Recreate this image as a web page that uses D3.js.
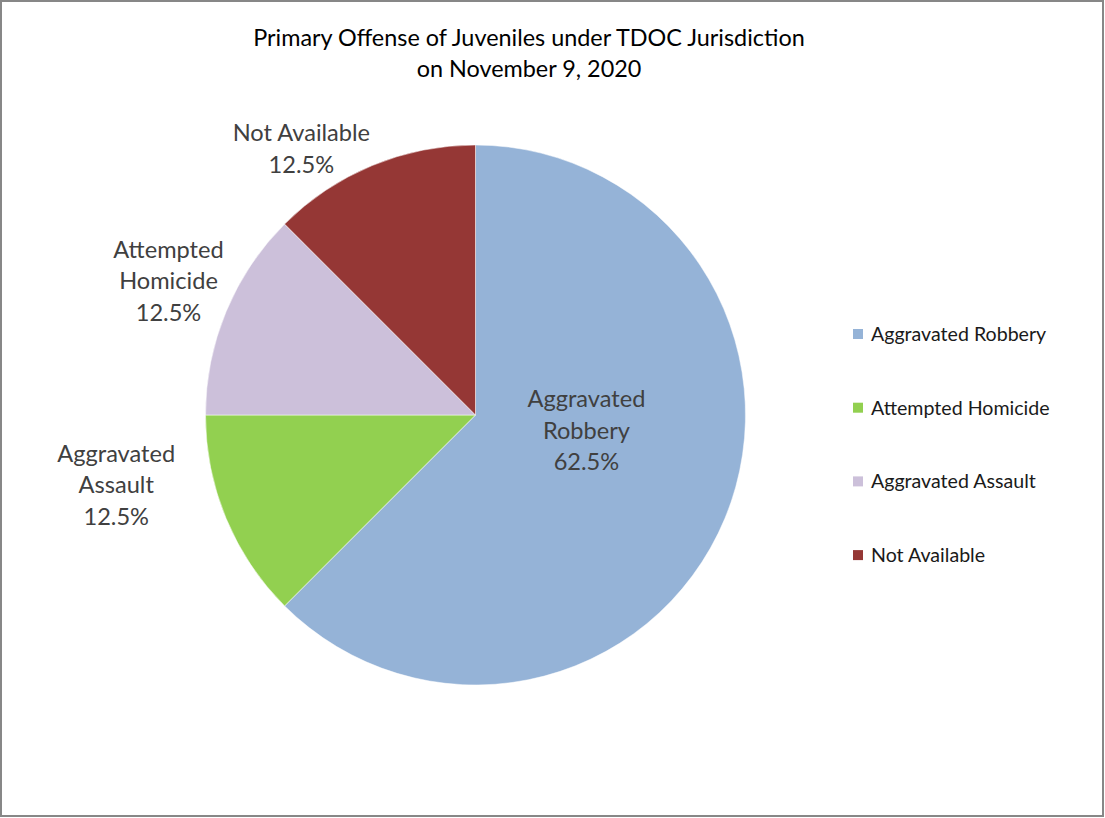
<!DOCTYPE html>
<html>
<head>
<meta charset="utf-8">
<script src="https://cdn.jsdelivr.net/npm/d3@7"></script>
<style>
  html, body { margin: 0; padding: 0; background: #fff; }
  svg { display: block; }
  text { font-family: Lato, "Open Sans", sans-serif; }
</style>
</head>
<body>
<svg id="chart" width="1105" height="818"></svg>
<script>
// ---- data ----
const titleLines = ["Primary Offense of Juveniles under TDOC Jurisdiction", "on November 9, 2020"];
const categories = ["Aggravated Robbery", "Attempted Homicide", "Aggravated Assault", "Not Available"];
const values = [62.5, 12.5, 12.5, 12.5];
const colors = ["#95B3D7", "#92D050", "#CCC0DA", "#953735"];
// data labels as printed in the chart (name lines + percent)
const labelLines = [
  ["Aggravated", "Robbery", "62.5%"],
  ["Aggravated", "Assault", "12.5%"],
  ["Attempted", "Homicide", "12.5%"],
  ["Not Available", "12.5%"]
];

// ---- layout ----
const W = 1105, H = 818;
const cx = 475.5, cy = 415, R = 270;
const svg = d3.select("#chart");

svg.append("rect").attr("x", 1).attr("y", 1).attr("width", W - 3).attr("height", H - 3)
  .attr("fill", "#fff").attr("stroke", "#878787").attr("stroke-width", 2);

svg.append("g").selectAll("text").data(titleLines).join("text")
  .attr("x", 529).attr("y", (d, i) => 46 + i * 31)
  .attr("text-anchor", "middle").attr("font-size", 23.4).attr("fill", "#000")
  .text(d => d);

const pie = d3.pie().sort(null).value(d => d.v);
const arcs = pie(values.map((v, i) => ({ v, i })));
const arc = d3.arc().innerRadius(0).outerRadius(R);

const g = svg.append("g").attr("transform", `translate(${cx},${cy})`);
g.selectAll("path").data(arcs).join("path")
  .attr("d", arc).attr("fill", d => colors[d.data.i])
  .attr("stroke", "#fff").attr("stroke-width", 0.5);

// label placement: polar (angle delta from mid-angle, radius) per slice
const labelPolar = [
  { dAng: -14.5, r: 112 },
  { dAng: 11.5, r: 366 },
  { dAng: 1.1, r: 335 },
  { dAng: -10.7, r: 318 }
];
const lineH = 31.5;
arcs.forEach((d, i) => {
  const mid = (d.startAngle + d.endAngle) / 2 + labelPolar[i].dAng * Math.PI / 180;
  const x = Math.sin(mid) * labelPolar[i].r;
  const y = -Math.cos(mid) * labelPolar[i].r;
  const lines = labelLines[i];
  const t = g.append("text").attr("text-anchor", "middle")
    .attr("font-size", 23.6).attr("fill", "#404040");
  const y0 = y - (lines.length - 1) * lineH / 2;
  lines.forEach((s, k) => {
    t.append("tspan").attr("x", x).attr("y", y0 + k * lineH).attr("dy", "0.35em").text(s);
  });
});

// legend
const legend = svg.append("g").attr("transform", "translate(853,334)");
const item = legend.selectAll("g").data(categories).join("g")
  .attr("transform", (d, i) => `translate(0,${i * 73.7})`);
item.append("rect").attr("x", 0).attr("y", -5).attr("width", 10).attr("height", 10)
  .attr("fill", (d, i) => colors[i]);
item.append("text").attr("x", 18).attr("y", 0).attr("dy", "0.35em")
  .attr("font-size", 19.6).attr("fill", "#1a1a1a").text(d => d);
</script>
</body>
</html>
